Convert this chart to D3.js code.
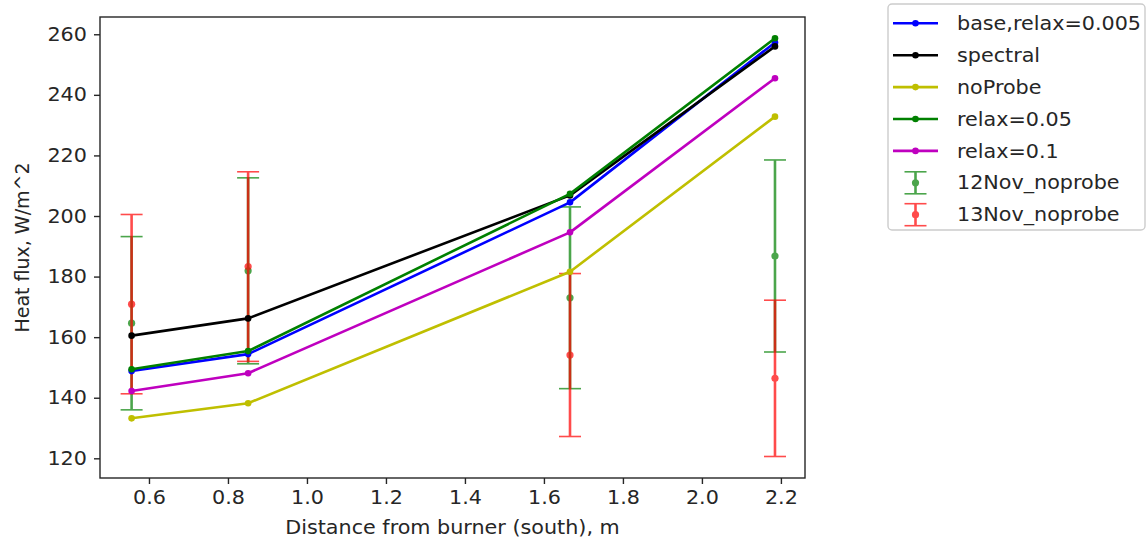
<!DOCTYPE html>
<html>
<head>
<meta charset="utf-8">
<style>
  body { margin: 0; background: #fff; }
  text { font-family: "DejaVu Sans", sans-serif; fill: #262626; }
</style>
<script src="https://d3js.org/d3.v7.min.js"></script>
</head>
<body>
<script>
// distances (m) and heat flux values
let distance = [0.556, 0.851, 1.666, 2.185];
let base = [148.8, 154.4, 204.5, 257.3];
let spectral = [160.5, 166.2, 206.8, 256.0];
let noProbe = [133.2, 138.2, 181.6, 232.8];
let relax005 = [149.4, 155.4, 207.3, 258.7];
let relax01 = [142.2, 148.1, 194.6, 245.5];
let nov12 = [164.6, 181.9, 173.0, 186.8];
let nov12Err = [28.6, 30.7, 30.0, 31.7];
let nov13 = [170.9, 183.3, 154.1, 146.4];
let nov13Err = [29.6, 31.3, 26.9, 25.8];
let xTicks = [0.6, 0.8, 1.0, 1.2, 1.4, 1.6, 1.8, 2.0, 2.2];
let yTicks = [120, 140, 160, 180, 200, 220, 240, 260];

let lineSeries = [
    {name: "base,relax=0.005", values: base, color: "#0000ff"},
    {name: "spectral", values: spectral, color: "#000000"},
    {name: "noProbe", values: noProbe, color: "#bfbf00"},
    {name: "relax=0.05", values: relax005, color: "#008000"},
    {name: "relax=0.1", values: relax01, color: "#bf00bf"}
];
let errSeries = [
    {name: "12Nov_noprobe", values: nov12, err: nov12Err, color: "#008000"},
    {name: "13Nov_noprobe", values: nov13, err: nov13Err, color: "#ff0000"}
];

let width = 1148, height = 548;
let mLeft = 100, mRight = 805, mTop = 17, mBottom = 478;
let fontSize = 19;
let stretch = "scale(1.09,1)"; // the source picture is a bit wider than tall

let svg = d3.select("body").append("svg")
    .attr("width", width)
    .attr("height", height);

let x = d3.scaleLinear().domain([0.476, 2.261]).range([mLeft, mRight]);
let y = d3.scaleLinear().domain([113.5, 265.7]).range([mBottom, mTop]);

// error bars go under the lines
let errOpacity = 0.7;
errSeries.forEach(s => {
    let g = svg.append("g").attr("opacity", errOpacity);
    let pts = distance.map((d, i) => ({x: d, v: s.values[i], e: s.err[i]}));
    g.selectAll(".bar").data(pts).join("line")
        .attr("x1", d => x(d.x)).attr("x2", d => x(d.x))
        .attr("y1", d => y(d.v - d.e)).attr("y2", d => y(d.v + d.e))
        .attr("stroke", s.color).attr("stroke-width", 2.6);
    [-1, 1].forEach(sign => {
        g.selectAll(".cap" + sign).data(pts).join("line")
            .attr("x1", d => x(d.x) - 11).attr("x2", d => x(d.x) + 11)
            .attr("y1", d => y(d.v + sign * d.e)).attr("y2", d => y(d.v + sign * d.e))
            .attr("stroke", s.color).attr("stroke-width", 1.6);
    });
    g.selectAll("circle").data(pts).join("circle")
        .attr("cx", d => x(d.x)).attr("cy", d => y(d.v))
        .attr("r", 3.6).attr("fill", s.color);
});

let line = d3.line()
    .x((d, i) => x(distance[i]))
    .y(d => y(d));

lineSeries.forEach(s => {
    svg.append("path")
        .attr("d", line(s.values))
        .attr("fill", "none")
        .attr("stroke", s.color)
        .attr("stroke-width", 2.6)
        .attr("stroke-linejoin", "round");
    svg.append("g").selectAll("circle").data(s.values).join("circle")
        .attr("cx", (d, i) => x(distance[i]))
        .attr("cy", d => y(d))
        .attr("r", 3.3)
        .attr("fill", s.color);
});

// axes
let xAxis = d3.axisBottom(x).tickValues(xTicks).tickFormat(d3.format(".1f")).tickSize(6).tickPadding(7);
let yAxis = d3.axisLeft(y).tickValues(yTicks).tickFormat(d3.format("d")).tickSize(6).tickPadding(6);

let gx = svg.append("g").attr("transform", `translate(0,${mBottom})`).call(xAxis);
let gy = svg.append("g").attr("transform", `translate(${mLeft},0)`).call(yAxis);
[gx, gy].forEach(g => {
    g.select(".domain").remove();
    g.selectAll(".tick line").attr("stroke", "#262626").attr("stroke-width", 1.4);
    g.selectAll(".tick text").attr("font-size", fontSize).attr("fill", "#262626")
        .attr("transform", stretch)
        .style("font-family", "DejaVu Sans");
});

svg.append("rect")
    .attr("x", mLeft).attr("y", mTop)
    .attr("width", mRight - mLeft).attr("height", mBottom - mTop)
    .attr("fill", "none").attr("stroke", "#262626").attr("stroke-width", 1.4);

svg.append("text")
    .attr("transform", `translate(${(mLeft + mRight) / 2},534) ${stretch}`)
    .attr("text-anchor", "middle").attr("font-size", fontSize)
    .text("Distance from burner (south), m");

svg.append("text")
    .attr("transform", `translate(29,${(mTop + mBottom) / 2}) rotate(-90)`)
    .attr("text-anchor", "middle").attr("font-size", fontSize)
    .text("Heat flux, W/m^2");

// legend
let legend = svg.append("g");
legend.append("rect")
    .attr("x", 888).attr("y", 4).attr("width", 257).attr("height", 226)
    .attr("rx", 4).attr("fill", "#fff").attr("stroke", "#cccccc").attr("stroke-width", 1.4);

let rowY = i => 23.3 + i * 31.9;
lineSeries.forEach((s, i) => {
    let g = legend.append("g").attr("transform", `translate(0,${rowY(i)})`);
    g.append("line").attr("x1", 893).attr("x2", 938).attr("y1", 0).attr("y2", 0)
        .attr("stroke", s.color).attr("stroke-width", 2.6);
    g.append("circle").attr("cx", 915.5).attr("cy", 0).attr("r", 3.3).attr("fill", s.color);
    g.append("text").attr("transform", `translate(957,0) ${stretch}`).attr("dy", "0.35em")
        .attr("font-size", fontSize).text(s.name);
});
errSeries.forEach((s, j) => {
    let g = legend.append("g").attr("transform", `translate(0,${rowY(lineSeries.length + j)})`);
    let h = g.append("g").attr("opacity", errOpacity);
    h.append("line").attr("x1", 915.5).attr("x2", 915.5).attr("y1", -11).attr("y2", 11)
        .attr("stroke", s.color).attr("stroke-width", 2.6);
    [-11, 11].forEach(dy => h.append("line")
        .attr("x1", 904.5).attr("x2", 926.5).attr("y1", dy).attr("y2", dy)
        .attr("stroke", s.color).attr("stroke-width", 1.6));
    h.append("circle").attr("cx", 915.5).attr("cy", 0).attr("r", 3.6).attr("fill", s.color);
    g.append("text").attr("transform", `translate(957,0) ${stretch}`).attr("dy", "0.35em")
        .attr("font-size", fontSize).text(s.name);
});
</script>
</body>
</html>
